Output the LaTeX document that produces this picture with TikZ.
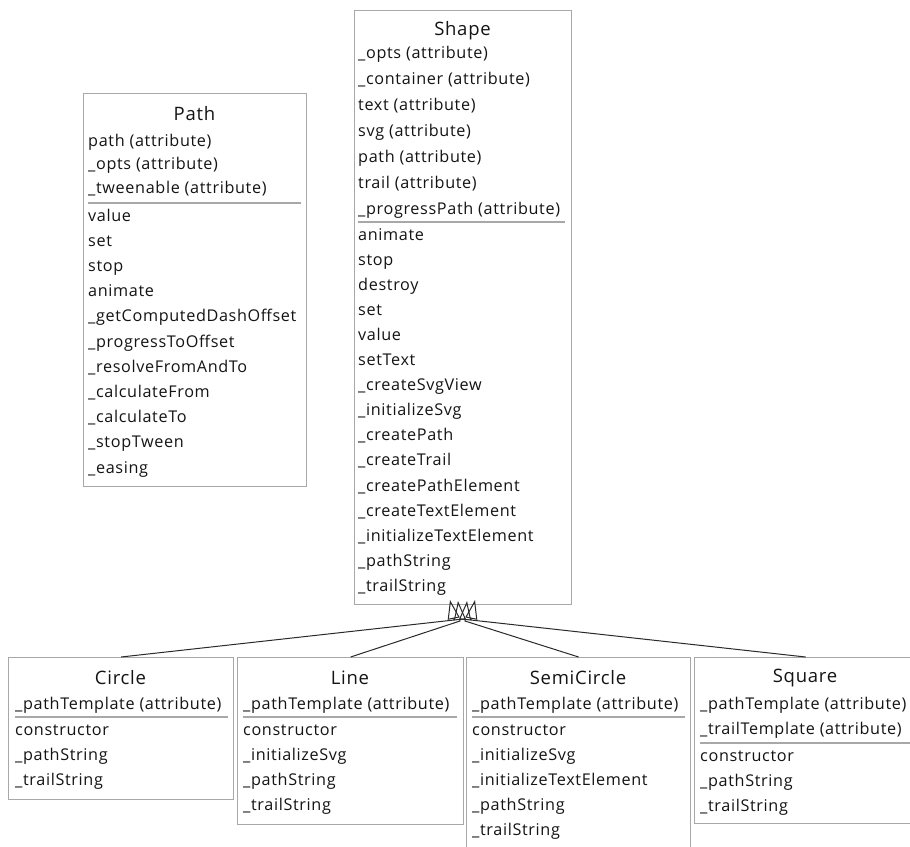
\documentclass[tikz,border=0pt]{standalone}
\usepackage{fontspec}
\setmainfont{Open Sans}
\newfontfamily\umlfont[LetterSpace=4]{Open Sans}
\usetikzlibrary{arrows.meta}
\definecolor{boxgray}{HTML}{A8A8A8}
\definecolor{txt}{HTML}{141414}
\definecolor{edge}{HTML}{2A2A2A}
\begin{document}
\begin{tikzpicture}[x=1pt,y=-1pt,
  classbox/.style={draw=boxgray, line width=1.2pt, fill=none, inner sep=0pt, anchor=north west},
  rowtext/.style={anchor=west, inner sep=0pt, text=txt, font=\umlfont\fontsize{16.2}{18}\selectfont, text height=11.6pt, text depth=3.5pt},
  titletext/.style={anchor=center, inner sep=0pt, text=txt, font=\umlfont\fontsize{18.5}{20}\selectfont},
  sepline/.style={draw=boxgray, line width=1.2pt},
  inherit/.style={draw=edge, line width=1pt, -{Triangle[open, length=19pt, width=12pt]}}
]
\useasboundingbox (0,0) rectangle (910,846);
\clip (0,0) rectangle (910,846);
\fill[white] (0,0) rectangle (910,846);

% ---------------- Path ----------------
\node[classbox, minimum width=223pt, minimum height=393pt] (path) at (83,93) {};
\node[titletext] (path-t) at (194.5,114) {Path};
\node[rowtext] (path-a1) at (88,142) {path (attribute)};
\node[rowtext] (path-a2) at (88,165) {\_opts (attribute)};
\node[rowtext] (path-a3) at (88,189) {\_tweenable (attribute)};
\draw[sepline] (88,203) -- (301,203);
\foreach \t [count=\i] in {value,set,stop,animate,\_getComputedDashOffset,\_progressToOffset,\_resolveFromAndTo,\_calculateFrom,\_calculateTo,\_stopTween,\_easing}
  \node[rowtext] (path-m\i) at (88,{217+25.2*(\i-1)}) {\t};

% ---------------- Shape ----------------
\node[classbox, minimum width=217pt, minimum height=594pt] (shape) at (354,10) {};
\node[titletext] (shape-t) at (462.5,31) {Shape};
\foreach \t [count=\i] in {\_opts (attribute),\_container (attribute),text (attribute),svg (attribute),path (attribute),trail (attribute),\_progressPath (attribute)}
  \node[rowtext] (shape-a\i) at (358,{54+26*(\i-1)}) {\t};
\draw[sepline] (358,222) -- (565,222);
\foreach \t [count=\i] in {animate,stop,destroy,set,value,setText,\_createSvgView,\_initializeSvg,\_createPath,\_createTrail,\_createPathElement,\_createTextElement,\_initializeTextElement,\_pathString,\_trailString}
  \node[rowtext] (shape-m\i) at (358,{236+25.1*(\i-1)}) {\t};

% ---------------- Circle ----------------
\node[classbox, minimum width=225pt, minimum height=142pt] (circle) at (8,657) {};
\node[titletext] (circle-t) at (120.5,678) {Circle};
\node[rowtext] (circle-a1) at (15,705) {\_pathTemplate (attribute)};
\draw[sepline] (15,717) -- (228,717);
\foreach \t [count=\i] in {constructor,\_pathString,\_trailString}
  \node[rowtext] (circle-m\i) at (15,{731+25*(\i-1)}) {\t};

% ---------------- Line ----------------
\node[classbox, minimum width=226pt, minimum height=167pt] (line) at (237,657) {};
\node[titletext] (line-t) at (350,678) {Line};
\node[rowtext] (line-a1) at (243,705) {\_pathTemplate (attribute)};
\draw[sepline] (243,717) -- (457,717);
\foreach \t [count=\i] in {constructor,\_initializeSvg,\_pathString,\_trailString}
  \node[rowtext] (line-m\i) at (243,{731+25*(\i-1)}) {\t};

% ---------------- SemiCircle ----------------
\node[classbox, minimum width=224pt, minimum height=194pt] (semi) at (466,657) {};
\node[titletext] (semi-t) at (578,678) {SemiCircle};
\node[rowtext] (semi-a1) at (472,705) {\_pathTemplate (attribute)};
\draw[sepline] (472,717) -- (685,717);
\foreach \t [count=\i] in {constructor,\_initializeSvg,\_initializeTextElement,\_pathString,\_trailString}
  \node[rowtext] (semi-m\i) at (472,{731+25*(\i-1)}) {\t};

% ---------------- Square ----------------
\node[classbox, minimum width=222pt, minimum height=166pt] (square) at (694,657) {};
\node[titletext] (square-t) at (805,678) {Square};
\node[rowtext] (square-a1) at (700,705) {\_pathTemplate (attribute)};
\node[rowtext] (square-a2) at (700,730) {\_trailTemplate (attribute)};
\draw[sepline] (700,743) -- (912,743);
\foreach \t [count=\i] in {constructor,\_pathString,\_trailString}
  \node[rowtext] (square-m\i) at (700,{757+25*(\i-1)}) {\t};

% ---------------- Inheritance ----------------
\coordinate (t1) at (450,600);
\coordinate (t2) at (458,601);
\coordinate (t3) at (467,601);
\coordinate (t4) at (475,600);
\coordinate (b1) at (454,620);
\coordinate (b2) at (460,621);
\coordinate (b3) at (465,621);
\coordinate (b4) at (471,620);
\draw[inherit] (circle.north) -- (b1) -- (t1);
\draw[inherit] (line.north) -- (b2) -- (t2);
\draw[inherit] (semi.north) -- (b3) -- (t3);
\draw[inherit] (square.north) -- (b4) -- (t4);
\end{tikzpicture}
\end{document}
